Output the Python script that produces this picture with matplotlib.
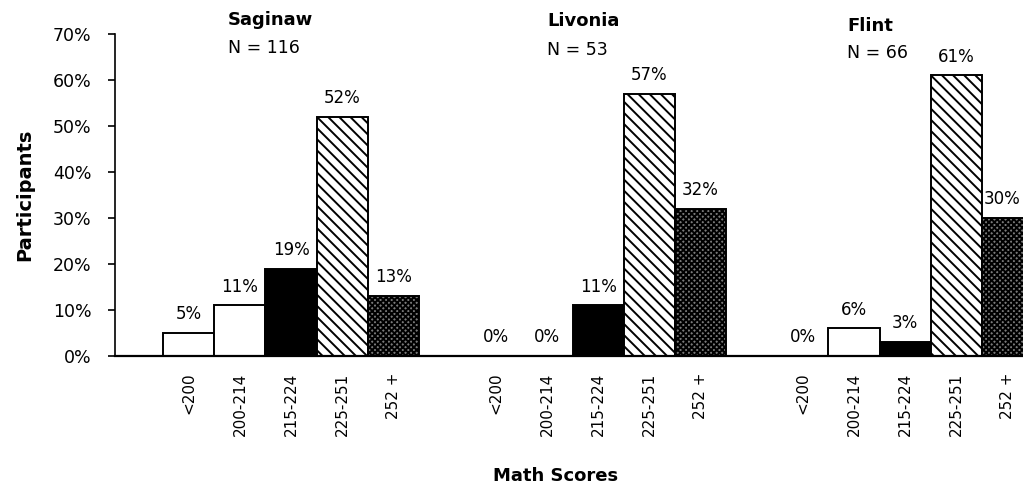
import numpy as np
import matplotlib.pyplot as plt

plt.rcParams['font.family'] = ['DejaVu Sans']
plt.rcParams['hatch.linewidth'] = 1.4

# Share of participants in each math score band, per district
districts = ['Saginaw', 'Livonia', 'Flint']
n_sizes = [116, 53, 66]
score_bins = ['<200', '200-214', '215-224', '225-251', '252 +']
saginaw = [5, 11, 19, 52, 13]
livonia = [0, 0, 11, 57, 32]
flint = [0, 6, 3, 61, 30]
values = [saginaw, livonia, flint]

# bar look for each score band
faces = ['white', 'white', 'black', 'white', '#7a7a7a']
hatches = [None, None, None, '\\\\\\', 'xxxxxx']

fig = plt.figure(figsize=(10.23, 4.93), dpi=100)
ax = fig.add_axes([0.1124, 0.278, 0.8876, 0.653])

tick_pos = []
tick_lab = []
for g, (name, n, vals) in enumerate(zip(districts, n_sizes, values)):
    x0 = g * 6
    xs = x0 + np.arange(len(vals))
    for x, v, fc, h in zip(xs, vals, faces, hatches):
        ax.bar(x, v, width=1.0, color=fc, edgecolor='black',
               linewidth=1.4, hatch=h, zorder=2)
        # the last label sits against the right edge, so start it at the bar's left side
        if g == len(values) - 1 and x == xs[-1]:
            ax.annotate(f'{v}%', (x, v), xytext=(-17.5, 7), textcoords='offset points',
                        ha='left', va='bottom', fontsize=12)
        else:
            ax.annotate(f'{v}%', (x, v), xytext=(0, 7), textcoords='offset points',
                        ha='center', va='bottom', fontsize=12)
    tick_pos.extend(xs)
    tick_lab.extend(score_bins)

# district headings above each group
title_x = [0.77, 7.0, 12.86]
title_y = [(73.0, 66.9), (72.8, 66.5), (71.8, 65.8)]
for name, n, tx, (ty1, ty2) in zip(districts, n_sizes, title_x, title_y):
    ax.text(tx, ty1, name, fontsize=13, fontweight='bold', ha='left',
            va='center', clip_on=False)
    ax.text(tx, ty2, f'N = {n}', fontsize=12.5, ha='left', va='center',
            clip_on=False)

ax.set_xlim(-1.44, 16.3)
ax.set_ylim(0, 70)
ax.set_yticks(range(0, 71, 10))
ax.set_yticklabels([f'{v}%' for v in range(0, 71, 10)], fontsize=12.5)
ax.set_xticks(tick_pos)
ax.set_xticklabels(tick_lab, rotation=90, fontsize=11, va='top')
ax.tick_params(axis='x', length=0, pad=12)
ax.tick_params(axis='y', direction='out', length=5, width=1.2, pad=12)

for side in ['top', 'right']:
    ax.spines[side].set_visible(False)
ax.spines['left'].set_linewidth(1.2)
ax.spines['bottom'].set_linewidth(1.6)
ax.spines['bottom'].set_zorder(3)

fig.text(0.024, 0.605, 'Participants', rotation=90, fontsize=14,
         fontweight='bold', ha='center', va='center')
fig.text(0.543, 0.035, 'Math Scores', fontsize=13, fontweight='bold',
         ha='center', va='center')

fig.savefig('out.png', dpi=100)
